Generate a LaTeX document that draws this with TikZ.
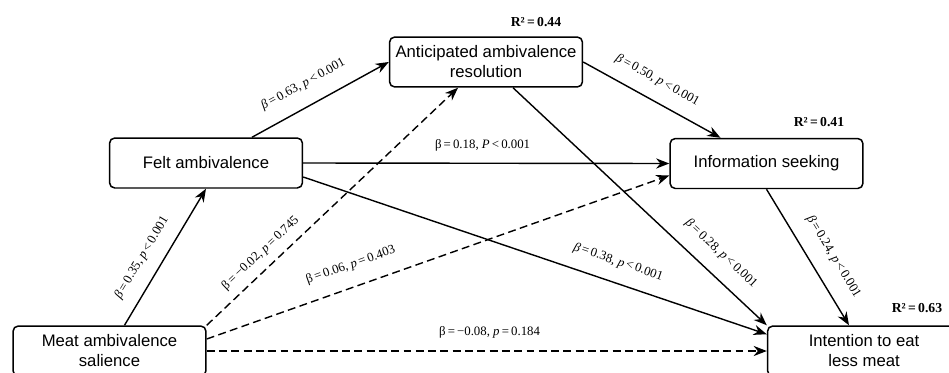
\documentclass[tikz,border=0pt]{standalone}
\usepackage{fontspec}
\setmainfont{Liberation Sans}
\newfontfamily\statfont{Liberation Serif}
\usepackage{tikz}
\usetikzlibrary{arrows.meta, positioning, calc}
\tikzstyle{construct} = [rectangle, rounded corners=3pt, minimum width=3.86cm, minimum height=1cm,
                         align=center, draw=black, line width=0.85pt, fill=white,
                         font=\fontsize{9.5}{11.4}\selectfont]
\tikzstyle{coef}      = [font=\statfont\fontsize{7.3}{8}\selectfont, inner sep=1pt]
\tikzstyle{rsq}       = [font=\statfont\bfseries\fontsize{7.8}{8}\selectfont, inner sep=1pt]
\tikzstyle{arrow}     = [line width=0.8pt, -{Stealth[length=7.5pt, width=5.8pt]}]
\tikzstyle{dasharrow} = [arrow, dash pattern=on 4.5pt off 2.5pt]

\begin{document}
\begin{tikzpicture}[x=0.02cm, y=-0.02cm]
  \useasboundingbox (0,0) rectangle (949,372);

  % Constructs
  \node (felt)   [construct] at (206,   163)   {Felt ambivalence};
  \node (meat)   [construct] at (109.5, 351)   {Meat ambivalence\\salience};
  \node (antic)  [construct] at (486,   62)    {Anticipated ambivalence\\resolution};
  \node (info)   [construct] at (766.5, 163.5) {Information seeking};
  \node (intent) [construct] at (864,   351)   {Intention to eat\\less meat};

  % Explained variance
  \node (r2antic)  [rsq] at (536, 22)  {R²\,=\,0.44};
  \node (r2info)   [rsq] at (819, 122) {R²\,=\,0.41};
  \node (r2intent) [rsq] at (917, 308) {R²\,=\,0.63};

  % Meat -> Felt
  \draw[arrow] ($(meat.north)+(15,0)$) -- node[coef, above=6.5pt, sloped, pos=0.42]{{\itshape β}\,=\,0.35, {\itshape p}\,<\,0.001} (felt.south);
  % Felt -> Antic
  \draw[arrow] ($(felt.north)+(46,0)$) -- node[coef, above=7.5pt, sloped, pos=0.45]{{\itshape β}\,=\,0.63, {\itshape p}\,<\,0.001} (antic.west);
  % Antic -> Info
  \draw[arrow] (antic.east) -- node[coef, above=6.6pt, sloped, pos=0.47]{{\itshape β}\,=\,0.50, {\itshape p}\,<\,0.001} ($(info.north)+(-46,0)$);
  % Felt -> Info
  \draw[arrow] (felt.east) -- node[coef, above=5.4pt, pos=0.49]{β\,=\,0.18, {\itshape P}\,<\,0.001} (info.west);
  % Felt -> Intent
  \draw[arrow] ($(felt.east)+(0,14)$) -- node[coef, above=6.9pt, sloped, pos=0.665]{{\itshape β}\,=\,0.38, {\itshape p}\,<\,0.001} ($(intent.north west)+(0,9)$);
  % Antic -> Intent
  \draw[arrow] ($(antic.south)+(27,0)$) -- node[coef, above=7.3pt, sloped, pos=0.763]{{\itshape β}\,=\,0.28, {\itshape p}\,<\,0.001} (intent.north west);
  % Info -> Intent
  \draw[arrow] (info.south) -- node[coef, above=8pt, sloped, pos=0.58]{{\itshape β}\,=\,0.24, {\itshape p}\,<\,0.001} ($(intent.north)+(-15,0)$);
  % Meat -> Antic (n.s.)
  \draw[dasharrow] (meat.north east) -- node[coef, above=4pt, sloped, pos=0.256]{β\,=\,−0.02, {\itshape p}\,=\,0.745} ($(antic.south)+(-28,0)$);
  % Meat -> Info (n.s.)
  \draw[dasharrow] ($(meat.east)+(0,-12)$) -- node[coef, above=7.5pt, sloped, pos=0.327]{β\,=\,0.06, {\itshape p}\,=\,0.403} ($(info.west)+(0,12)$);
  % Meat -> Intent (n.s.)
  \draw[dasharrow] (meat.east) -- node[coef, above=6pt, pos=0.505]{β\,=\,−0.08, {\itshape p}\,=\,0.184} (intent.west);

\end{tikzpicture}
\end{document}
